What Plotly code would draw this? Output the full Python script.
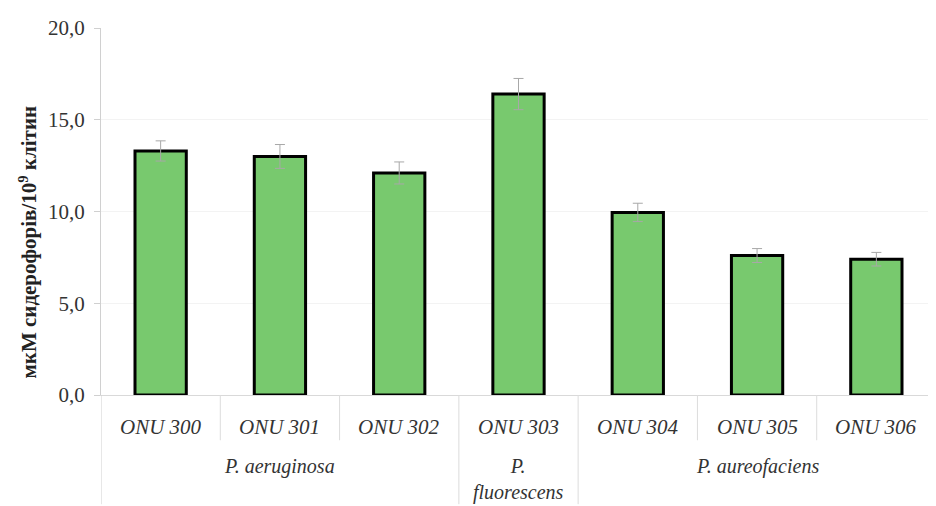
import plotly.graph_objects as go

strains = ["ONU 300", "ONU 301", "ONU 302", "ONU 303", "ONU 304", "ONU 305", "ONU 306"]
values = [13.3, 13.0, 12.1, 16.4, 9.95, 7.6, 7.4]
errors = [0.55, 0.65, 0.6, 0.85, 0.5, 0.38, 0.37]
groups = ["<i>P. aeruginosa</i>", "<i>P.</i><br><i>fluorescens</i>", "<i>P. aureofaciens</i>"]
group_centers = [1, 3, 5]
group_bounds = [2.5, 3.5]
ytick_vals = [0, 5, 10, 15, 20]
ytick_text = ["0,0", "5,0", "10,0", "15,0", "20,0"]
y_title = "<b>мкМ сидерофорів/10<sup>9</sup> клітин</b>"

FONT = "Liberation Serif, serif"
H_PLOT = 373.0

fig = go.Figure()
fig.add_trace(go.Bar(
    x=list(range(len(strains))), y=values,
    width=0.43,
    marker=dict(color="#78c96e", line=dict(color="#000000", width=3)),
    error_y=dict(type="data", array=errors, color="#a8a8a8", thickness=1, width=5),
))

annotations = []
for i, s in enumerate(strains):
    annotations.append(dict(x=i, y=0, xref="x", yref="paper", text="<i>%s</i>" % s,
                            showarrow=False, yanchor="middle", yshift=-32,
                            font=dict(family=FONT, size=21, color="#333333")))
for c, g in zip(group_centers, groups):
    annotations.append(dict(x=c, y=0, xref="x", yref="paper", text=g,
                            showarrow=False, yanchor="top", yshift=-58,
                            font=dict(family=FONT, size=20, color="#333333")))
annotations.append(dict(x=0, y=(395 - 240) / H_PLOT, xref="paper", yref="paper",
                        xshift=-73, text=y_title, textangle=-90, showarrow=False,
                        xanchor="center", yanchor="middle",
                        font=dict(family=FONT, size=21, color="#222222")))

shapes = []
for i in range(len(strains) - 1):
    b = i + 0.5
    long_ = b in group_bounds
    shapes.append(dict(type="line", xref="x", yref="paper", x0=b, x1=b, y0=0,
                       y1=-(111 if long_ else 46) / H_PLOT,
                       line=dict(color="#dcdcdc", width=1)))
shapes.append(dict(type="line", xref="x", yref="paper", x0=-0.5, x1=-0.5, y0=0,
                   y1=-111 / H_PLOT, line=dict(color="#d0d0d0", width=1)))

fig.update_layout(
    width=936, height=506,
    margin=dict(l=93, r=8, t=14, b=119),
    paper_bgcolor="white", plot_bgcolor="white",
    showlegend=False,
    annotations=annotations, shapes=shapes,
    xaxis=dict(range=[-0.5, 6.5], showticklabels=False, showgrid=False,
               showline=True, linecolor="#d9d9d9", linewidth=1, zeroline=False, ticks=""),
    yaxis=dict(range=[0, 20], tickvals=ytick_vals, ticktext=ytick_text,
               showline=True, linecolor="#d0d0d0", linewidth=1,
               ticks="outside", ticklen=6, tickcolor="#d0d0d0",
               ticklabelstandoff=5,
               showgrid=True, gridcolor="#f3f3f3", zeroline=False,
               tickfont=dict(family=FONT, size=21, color="#333333")),
)

fig.write_html("out.html")
